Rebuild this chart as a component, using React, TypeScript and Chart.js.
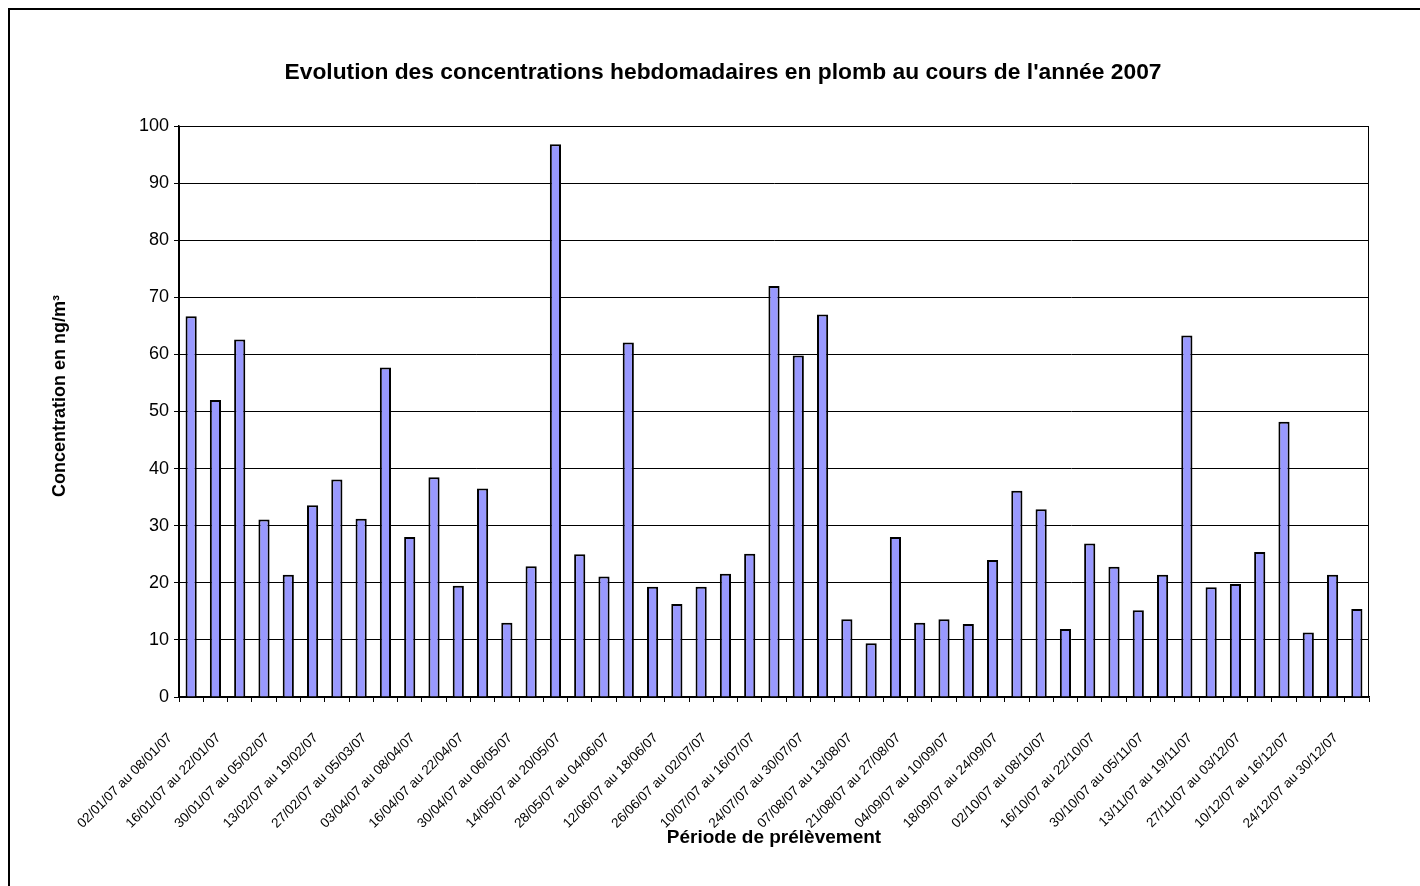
import React, { useEffect, useRef } from 'react';
import { Chart, registerables } from 'chart.js';

Chart.register(...registerables);

const periods: string[] = [
  '02/01/07 au 08/01/07', '09/01/07 au 15/01/07', '16/01/07 au 22/01/07', '23/01/07 au 29/01/07',
  '30/01/07 au 05/02/07', '06/02/07 au 12/02/07', '13/02/07 au 19/02/07', '20/02/07 au 26/02/07',
  '27/02/07 au 05/03/07', '27/03/07 au 02/04/07', '03/04/07 au 08/04/07', '09/04/07 au 15/04/07',
  '16/04/07 au 22/04/07', '23/04/07 au 29/04/07', '30/04/07 au 06/05/07', '07/05/07 au 13/05/07',
  '14/05/07 au 20/05/07', '21/05/07 au 27/05/07', '28/05/07 au 04/06/07', '05/06/07 au 11/06/07',
  '12/06/07 au 18/06/07', '19/06/07 au 25/06/07', '26/06/07 au 02/07/07', '03/07/07 au 09/07/07',
  '10/07/07 au 16/07/07', '17/07/07 au 23/07/07', '24/07/07 au 30/07/07', '31/07/07 au 06/08/07',
  '07/08/07 au 13/08/07', '14/08/07 au 20/08/07', '21/08/07 au 27/08/07', '28/08/07 au 03/09/07',
  '04/09/07 au 10/09/07', '11/09/07 au 17/09/07', '18/09/07 au 24/09/07', '25/09/07 au 01/10/07',
  '02/10/07 au 08/10/07', '09/10/07 au 15/10/07', '16/10/07 au 22/10/07', '23/10/07 au 29/10/07',
  '30/10/07 au 05/11/07', '06/11/07 au 12/11/07', '13/11/07 au 19/11/07', '20/11/07 au 26/11/07',
  '27/11/07 au 03/12/07', '04/12/07 au 10/12/07', '10/12/07 au 16/12/07', '17/12/07 au 23/12/07',
  '24/12/07 au 30/12/07',
];

const leadConcentrations: number[] = [
  66.7, 52.0, 62.6, 31.1, 21.4, 33.6, 38.1, 31.2, 57.7, 28.0,
  38.5, 19.5, 36.5, 13.0, 22.9, 96.8, 25.0, 21.1, 62.1, 19.3,
  16.3, 19.3, 21.6, 25.1, 72.0, 59.8, 67.0, 13.6, 9.4, 28.0,
  13.0, 13.6, 12.8, 24.0, 36.1, 32.9, 11.9, 26.9, 22.8, 15.2,
  21.4, 63.3, 19.2, 19.8, 25.4, 48.2, 11.3, 21.4, 15.4,
];

const yTickValues: number[] = [0, 10, 20, 30, 40, 50, 60, 70, 80, 90, 100];

const chartTitle = "Evolution des concentrations hebdomadaires en plomb au cours de l'année 2007";
const yAxisTitle = 'Concentration en ng/m³';
const xAxisTitle = 'Période de prélèvement';

const FONT = '"Liberation Sans", Arial, Helvetica, sans-serif';

export default function App() {
  const canvasRef = useRef<HTMLCanvasElement | null>(null);

  useEffect(() => {
    if (!canvasRef.current) return;
    Chart.defaults.font.family = FONT;
    Chart.defaults.color = '#000';

    const framePlugin = {
      id: 'frameAndTitle',
      afterDraw(chart: any) {
        const { ctx, chartArea } = chart;
        ctx.save();
        ctx.strokeStyle = '#000';
        ctx.lineWidth = 1;
        ctx.strokeRect(chartArea.left + 0.5, chartArea.top + 0.5, chartArea.right - chartArea.left - 1, chartArea.bottom - chartArea.top);
        ctx.fillStyle = '#000';
        ctx.font = `bold 22.8px ${FONT}`;
        ctx.textAlign = 'center';
        ctx.textBaseline = 'middle';
        ctx.fillText(chartTitle, 723, 73);
        ctx.translate(60, 396);
        ctx.rotate(-Math.PI / 2);
        ctx.font = `bold 18px ${FONT}`;
        ctx.fillText(yAxisTitle, 0, 0);
        ctx.restore();
      },
    };

    const chart = new Chart(canvasRef.current, {
      type: 'bar',
      data: {
        labels: periods,
        datasets: [
          {
            label: 'Plomb',
            data: leadConcentrations,
            backgroundColor: '#9999FF',
            borderColor: '#000000',
            borderWidth: 2,
            barPercentage: 0.46,
            categoryPercentage: 1,
          },
        ],
      },
      options: {
        responsive: false,
        animation: false,
        layout: { padding: { left: 45, right: 51, top: 126, bottom: 33 } },
        plugins: {
          legend: { display: false },
          title: { display: false },
          tooltip: { enabled: false },
        },
        scales: {
          x: {
            grid: {
              display: true,
              drawOnChartArea: false,
              drawTicks: true,
              tickLength: 5,
              color: '#000',
              offset: true,
            },
            border: { display: true, color: '#000', width: 1.5 },
            ticks: {
              autoSkip: false,
              minRotation: 45,
              maxRotation: 45,
              padding: 28,
              labelOffset: -21,
              font: { size: 13.5 },
              color: '#000',
              callback: function (this: any, value: any, index: number) {
                return index % 2 === 0 ? periods[index] : '';
              },
            },
            title: {
              display: true,
              text: xAxisTitle,
              font: { size: 19, weight: 'bold' },
              color: '#000',
            },
            afterFit(scale: any) {
              scale.height = 156;
            },
          },
          y: {
            min: 0,
            max: 100,
            afterBuildTicks(scale: any) {
              scale.ticks = yTickValues.map((v) => ({ value: v }));
            },
            grid: {
              color: '#000',
              lineWidth: 1,
              tickLength: 5,
              drawTicks: true,
            },
            border: { display: true, color: '#000', width: 1.5 },
            ticks: {
              padding: 5,
              font: { size: 18 },
              color: '#000',
            },
            title: { display: false },
            afterFit(scale: any) {
              scale.width = 134;
            },
          },
        },
      },
      plugins: [framePlugin],
    });

    return () => chart.destroy();
  }, []);

  return (
    <div style={{ position: 'fixed', left: 0, top: 0, width: 1420, height: 886, overflow: 'hidden', background: '#fff' }}>
      <div
        style={{
          position: 'absolute',
          left: 8,
          top: 8,
          width: 1420,
          height: 886,
          borderLeft: '2px solid #000',
          borderTop: '2px solid #000',
          boxSizing: 'border-box',
        }}
      />
      <canvas ref={canvasRef} width={1420} height={886} style={{ position: 'absolute', left: 0, top: 0 }} />
    </div>
  );
}
